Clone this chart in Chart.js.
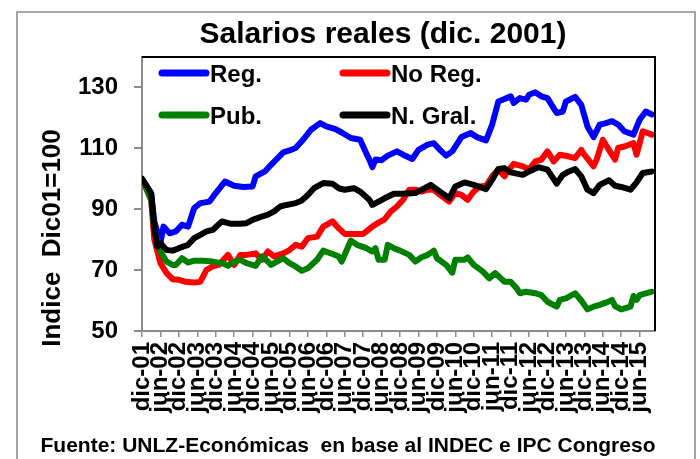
<!DOCTYPE html>
<html>
<head>
<meta charset="utf-8">
<script src="https://cdn.jsdelivr.net/npm/chart.js@4/dist/chart.umd.min.js"></script>
<style>
  html, body { margin: 0; padding: 0; background: #fff; }
</style>
</head>
<body>
<canvas id="c" width="700" height="459"></canvas>
<script>
// Salarios reales, índice dic-01 = 100 (month 0 = dic-01)

const FONT  = '"Liberation Sans", Arial, sans-serif';
const AXIS  = '#8c8c8c';
const FRAME = '#a6a6a6';

const X_TICK_LABELS = [
  'dic-01', 'jun-02', 'dic-02', 'jun-03', 'dic-03', 'jun-04', 'dic-04',
  'jun-05', 'dic-05', 'jun-06', 'dic-06', 'jun-07', 'dic-07', 'jun-08',
  'dic-08', 'jun-09', 'dic-09', 'jun-10', 'dic-10', 'jun-11', 'dic-11',
  'jun-12', 'dic-12', 'jun-13', 'dic-13', 'jun-14', 'dic-14', 'jun-15',
];
const Y_TICKS = [50, 70, 90, 110, 130];

const REG_MONTHS = [0, 3, 4, 6, 7, 9, 11, 13, 15, 17, 19, 22, 24, 27, 30, 33, 36, 37, 40, 42, 46, 48, 50, 52, 55, 58, 60, 63, 65, 68, 71, 73, 74, 75, 76, 78, 80, 83, 85, 88, 90, 93, 95, 97, 99, 101, 104, 107, 109, 112, 114, 116, 118, 120, 121, 123, 125, 126, 128, 130, 132, 134, 135, 137, 138, 141, 143, 145, 147, 149, 151, 153, 155, 157, 160, 162, 164, 166];
const REG_VALUES = [100, 95, 86, 79, 84.3, 82.1, 82.7, 84.9, 84.3, 90.4, 92, 92.5, 95.3, 99.1, 97.7, 97.3, 97.5, 100.8, 102.4, 104.6, 108.7, 109.3, 110.1, 112.3, 116.1, 118.3, 117.2, 116.3, 115.2, 113.4, 112.8, 108.4, 106.3, 103.8, 106.3, 106.1, 107.6, 109, 107.9, 106.5, 109.5, 111.2, 111.7, 109.5, 107.6, 109, 113.7, 115, 113.7, 112.6, 117.8, 125.4, 126.2, 127.1, 124.9, 126.5, 126, 127.6, 128.4, 127.1, 126.5, 123.2, 121.6, 122.1, 125.4, 126.9, 124.3, 117.2, 113.7, 117.8, 118.3, 118.9, 117.8, 115.6, 114.5, 119.4, 122.1, 121.1];

const NOREG_MONTHS = [0, 3, 4, 6, 8, 10, 12, 14, 17, 19, 21, 23, 25, 28, 30, 32, 34, 37, 39, 41, 43, 46, 48, 50, 52, 54, 57, 59, 62, 64, 66, 69, 72, 75, 77, 79, 81, 83, 85, 87, 89, 91, 93, 95, 97, 100, 102, 104, 106, 108, 110, 112, 114, 116, 118, 119, 121, 124, 126, 128, 130, 132, 134, 136, 139, 141, 143, 144, 147, 148, 150, 152, 154, 155, 157, 160, 161, 162, 163, 166];
const NOREG_VALUES = [100, 93, 80, 72.3, 69, 67, 66.8, 66.2, 65.9, 66.2, 70.1, 71.2, 71.7, 75, 71.7, 75, 75, 75.5, 73.4, 76.1, 74.5, 75.5, 76.6, 78.3, 77.7, 80.5, 81, 84.3, 86, 83.8, 81.9, 81.9, 81.9, 84.3, 85.6, 86.7, 89.3, 90.9, 93.1, 96.4, 96.4, 95.8, 96.4, 96.4, 94.7, 92.5, 95.3, 94.7, 93.1, 95.8, 97.5, 97.7, 100.8, 103, 100.8, 102.4, 104.9, 104.1, 103, 105.7, 106.3, 109, 105.7, 107.9, 107.3, 106.8, 109.5, 107.9, 104.1, 106.3, 112.8, 109.5, 106.3, 110.1, 110.6, 111.7, 107.9, 111.7, 115.6, 114.5];

const PUB_MONTHS = [0, 3, 4, 6, 8, 10, 11, 13, 15, 17, 20, 23, 26, 28, 30, 32, 34, 37, 39, 41, 42, 46, 48, 50, 52, 54, 57, 59, 62, 64, 65, 68, 70, 73, 75, 76, 77, 79, 80, 82, 84, 87, 89, 91, 93, 95, 96, 99, 101, 102, 105, 106, 108, 111, 113, 115, 118, 120, 122, 123, 125, 128, 130, 132, 135, 136, 138, 141, 143, 145, 147, 149, 151, 153, 154, 156, 159, 160, 161, 162, 166];
const PUB_VALUES = [100, 93, 83.2, 76.1, 72.8, 71.7, 71.7, 73.9, 72.5, 73.1, 73.1, 72.8, 72.3, 71.4, 72.8, 73.4, 72.3, 71.4, 74.5, 72.8, 71.7, 73.9, 72.3, 71.2, 69.8, 70.6, 73.4, 76.4, 75.3, 74.5, 72.8, 79.7, 78.3, 77.2, 76.1, 77.2, 73.4, 73.4, 78.3, 77.2, 76.4, 75, 72.8, 74.2, 75, 76.4, 73.9, 71.7, 69.2, 73.4, 73.4, 74.2, 71.7, 69.5, 67.3, 69, 66.2, 66.2, 64, 62.4, 62.9, 62.4, 61.8, 59.6, 58, 60.2, 60.7, 62.4, 60, 57.1, 58, 58.6, 59.3, 60.2, 58.2, 57.1, 58, 61.5, 60.2, 61.8, 62.9];

const GRAL_MONTHS = [0, 3, 4, 5, 6, 8, 10, 12, 15, 17, 19, 21, 23, 26, 29, 32, 34, 36, 39, 41, 43, 45, 47, 50, 52, 54, 56, 59, 62, 64, 66, 69, 71, 74, 75, 77, 79, 82, 85, 89, 92, 94, 97, 100, 102, 105, 108, 112, 114, 116, 118, 120, 124, 126, 129, 132, 135, 137, 139, 141, 143, 145, 147, 149, 152, 154, 156, 159, 161, 163, 166];
const GRAL_VALUES = [100, 95.3, 84, 77.7, 78.8, 76.6, 76.4, 77.2, 78.3, 80.5, 81.6, 82.7, 83.2, 86, 85.2, 85.2, 85.4, 86.5, 87.6, 88.2, 89.3, 90.9, 91.4, 92, 92.9, 94.7, 96.9, 98.6, 98.4, 96.9, 96.4, 96.9, 95.8, 93.1, 91.4, 92.5, 93.6, 95.1, 95.1, 95.3, 96.9, 98, 95.8, 93.6, 97.5, 98.8, 98, 96.6, 99.7, 103.2, 103.5, 102.1, 101.3, 102.4, 103.8, 103, 98.4, 101.3, 102.4, 103.2, 100.8, 96.4, 95.3, 98, 99.5, 97.7, 97.3, 96.4, 98.8, 101.9, 102.4];

const toPoints = (months, values) => months.map((m, i) => ({ x: m, y: values[i] }));

function series(label, color, months, values, order) {
  return {
    label,
    data: toPoints(months, values),
    borderColor: color,
    backgroundColor: color,
    borderWidth: 6,
    borderJoinStyle: 'round',
    borderCapStyle: 'round',
    pointRadius: 0,
    tension: 0,
    order,
  };
}

// frame, title, axis title, footer and the in-plot legend
const decor = {
  id: 'decor',
  beforeDraw(chart) {
    const ctx = chart.ctx;
    ctx.save();
    ctx.fillStyle = '#fff';
    ctx.fillRect(0, 0, chart.width, chart.height);
    ctx.strokeStyle = FRAME;
    ctx.lineWidth = 2;
    ctx.strokeRect(17, 12, 678, 480);
    ctx.restore();
  },
  afterDatasetsDraw(chart) {
    const { ctx, chartArea: a } = chart;
    ctx.save();
    ctx.strokeStyle = '#000';
    ctx.lineWidth = 2;
    ctx.beginPath();
    ctx.moveTo(a.left, a.top);
    ctx.lineTo(a.right, a.top);
    ctx.lineTo(a.right, a.bottom);
    ctx.stroke();
    ctx.restore();
  },
  afterDraw(chart) {
    const { ctx, chartArea: a } = chart;
    ctx.save();
    ctx.fillStyle = '#000';
    ctx.textBaseline = 'middle';
    ctx.textAlign = 'center';

    ctx.font = `bold 30px ${FONT}`;
    ctx.fillText('Salarios reales (dic. 2001)', 383, 35);

    ctx.font = `bold 21px ${FONT}`;
    ctx.fillText('Fuente: UNLZ-Económicas  en base al INDEC e IPC Congreso', 348, 446);

    ctx.save();
    ctx.translate(53, 238);
    ctx.rotate(-Math.PI / 2);
    ctx.font = `bold 26px ${FONT}`;
    ctx.fillText('Indice  Dic01=100', 0, 0);
    ctx.restore();

    // legend, 2 x 2 inside the plot
    ctx.textAlign = 'left';
    ctx.font = `bold 24px ${FONT}`;
    chart.data.datasets.forEach((ds, i) => {
      const x0 = a.left + 20 + (i % 2) * 181;
      const y  = a.top + 16 + Math.floor(i / 2) * 42;
      ctx.strokeStyle = ds.borderColor;
      ctx.lineWidth = 7;
      ctx.lineCap = 'round';
      ctx.beginPath();
      ctx.moveTo(x0, y);
      ctx.lineTo(x0 + 44, y);
      ctx.stroke();
      ctx.fillText(ds.label, x0 + 48, y + 2);
    });
    ctx.restore();
  },
};

new Chart(document.getElementById('c'), {
  type: 'line',
  data: {
    datasets: [
      series('Reg.',     '#0000FF', REG_MONTHS,   REG_VALUES,   3),
      series('No Reg.',  '#FF0000', NOREG_MONTHS, NOREG_VALUES, 2),
      series('Pub.',     '#008000', PUB_MONTHS,   PUB_VALUES,   1),
      series('N. Gral.', '#000000', GRAL_MONTHS,  GRAL_VALUES,  0),
    ],
  },
  options: {
    responsive: false,
    animation: false,
    layout: { padding: { top: 57, right: 45, bottom: 0, left: 0 } },
    plugins: {
      legend: { display: false },
      title: { display: false },
      tooltip: { enabled: false },
    },
    scales: {
      x: {
        type: 'linear',
        min: 0,
        max: 167,
        afterBuildTicks: s => { s.ticks = X_TICK_LABELS.map((_, i) => ({ value: i * 6 })); },
        afterFit: s => { s.height = 128; },
        grid: { drawOnChartArea: false, tickLength: 6, color: AXIS, lineWidth: 1.5 },
        border: { color: AXIS, width: 2 },
        ticks: {
          autoSkip: false,
          minRotation: 90,
          maxRotation: 90,
          padding: 5,
          color: '#000',
          font: { family: FONT, size: 24, weight: 'bold' },
          callback: (v, i) => X_TICK_LABELS[i],
        },
      },
      y: {
        min: 50,
        max: 140,
        afterBuildTicks: s => { s.ticks = Y_TICKS.map(v => ({ value: v })); },
        afterFit: s => { s.width = 142; },
        grid: { drawOnChartArea: false, tickLength: 8, color: AXIS, lineWidth: 2 },
        border: { color: AXIS, width: 2 },
        ticks: {
          padding: 16,
          color: '#000',
          font: { family: FONT, size: 24, weight: 'bold' },
        },
      },
    },
  },
  plugins: [decor],
});
</script>
</body>
</html>
